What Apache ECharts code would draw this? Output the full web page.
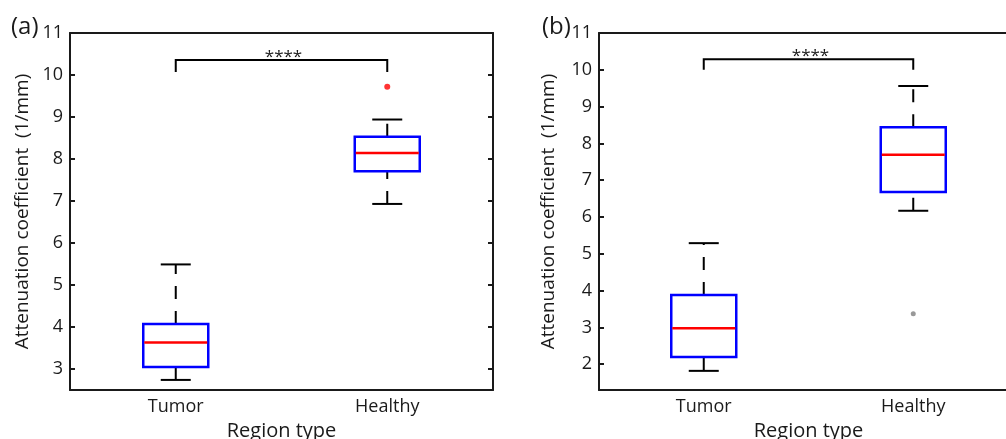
<!DOCTYPE html>
<html>
<head>
<meta charset="utf-8">
<script src="https://cdn.jsdelivr.net/npm/echarts@6/dist/echarts.min.js"></script>
<style>
  html, body { margin: 0; padding: 0; background: #fff; }
  #main { width: 1006px; height: 439px; }
</style>
</head>
<body>
<div id="main"></div>
<script>
// categories and box stats: [low whisker, Q1, median, Q3, high whisker]
var categories = ['Tumor', 'Healthy'];
var boxA = [[2.74, 3.05, 3.63, 4.07, 5.49], [6.93, 7.71, 8.14, 8.53, 8.94]];
var boxB = [[1.82, 2.20, 2.98, 3.88, 5.29], [6.17, 6.68, 7.69, 8.44, 9.56]];
var outlierA = [[1, 9.72]];
var outlierB = [[1, 3.37]];
// significance bracket: [leg bottom, bar]
var bracketA = [10.07, 10.36];
var bracketB = [10.00, 10.29];
var rangeA = [2.5, 11];
var rangeB = [1.3, 11];

var myChart = echarts.init(document.getElementById('main'));
var FONT = 'Open Sans';
var INK = '#1a1a1a';

function renderBox(params, api) {
    var x = api.value(0);
    var pLow = api.coord([x, api.value(1)]);
    var pQ1 = api.coord([x, api.value(2)]);
    var pMed = api.coord([x, api.value(3)]);
    var pQ3 = api.coord([x, api.value(4)]);
    var pHigh = api.coord([x, api.value(5)]);
    var cx = pMed[0];
    var bw = 65, cw = 30;
    var dash = {stroke: '#000', lineWidth: 2, lineDash: [13, 12]};
    var solid = {stroke: '#000', lineWidth: 2};
    return {
        type: 'group',
        children: [
            {type: 'line', shape: {x1: cx, y1: pQ3[1], x2: cx, y2: pHigh[1]}, style: dash},
            {type: 'line', shape: {x1: cx, y1: pLow[1], x2: cx, y2: pQ1[1]}, style: dash},
            {type: 'line', shape: {x1: cx - cw / 2, y1: pHigh[1], x2: cx + cw / 2, y2: pHigh[1]}, style: solid},
            {type: 'line', shape: {x1: cx - cw / 2, y1: pLow[1], x2: cx + cw / 2, y2: pLow[1]}, style: solid},
            {type: 'rect', shape: {x: cx - bw / 2, y: pQ3[1], width: bw, height: pQ1[1] - pQ3[1]},
                style: {fill: 'none', stroke: '#0000ff', lineWidth: 2.5}},
            {type: 'line', shape: {x1: cx - bw / 2 + 1, y1: pMed[1], x2: cx + bw / 2 - 1, y2: pMed[1]},
                style: {stroke: '#ff0000', lineWidth: 2.5}}
        ]
    };
}

function renderBracket(params, api) {
    var p0 = api.coord([api.value(0), api.value(2)]);
    var p1 = api.coord([api.value(0), api.value(3)]);
    var p2 = api.coord([api.value(1), api.value(3)]);
    var p3 = api.coord([api.value(1), api.value(2)]);
    return {
        type: 'group',
        children: [
            {type: 'polyline', shape: {points: [p0, p1, p2, p3]},
                style: {fill: 'none', stroke: '#000', lineWidth: 2}},
            {type: 'text', x: (p1[0] + p2[0]) / 2 + 2, y: p1[1] + 6,
                style: {text: '****', fill: INK, font: '17px ' + FONT, align: 'center', verticalAlign: 'bottom'}}
        ]
    };
}

function xAxes(gridIndex) {
    return [
        {
            type: 'category', gridIndex: gridIndex, data: categories, position: 'bottom',
            name: 'Region type', nameLocation: 'middle', nameGap: 31,
            nameTextStyle: {fontFamily: FONT, fontSize: 20, color: INK},
            axisLine: {lineStyle: {color: INK, width: 2}},
            axisTick: {inside: true, alignWithLabel: true, length: 5, lineStyle: {width: 2, color: INK}},
            axisLabel: {fontFamily: FONT, fontSize: 18, color: INK, margin: 8},
            splitLine: {show: false}
        },
        {
            type: 'category', gridIndex: gridIndex, data: categories, position: 'top',
            axisLine: {lineStyle: {color: INK, width: 2}},
            axisTick: {inside: true, alignWithLabel: true, length: 5, lineStyle: {width: 2, color: INK}},
            axisLabel: {show: false},
            splitLine: {show: false}
        }
    ];
}

function yAxes(gridIndex, range, gap) {
    var common = {
        type: 'value', gridIndex: gridIndex, min: range[0], max: range[1],
        splitNumber: 9, minInterval: 1, maxInterval: 1,
        axisLine: {show: true, lineStyle: {color: INK, width: 2}},
        axisTick: {show: true, inside: true, length: 5, lineStyle: {width: 2, color: INK}},
        splitLine: {show: false}
    };
    return [
        Object.assign({}, common, {
            position: 'left',
            name: 'Attenuation coefficient  (1/mm)', nameLocation: 'middle', nameGap: gap,
            nameTextStyle: {fontFamily: FONT, fontSize: 19, color: INK},
            axisLabel: {fontFamily: FONT, fontSize: 18, color: INK, margin: 7, showMinLabel: false}
        }),
        Object.assign({}, common, {position: 'right', axisLabel: {show: false}})
    ];
}

var option = {
    backgroundColor: '#fff',
    animation: false,
    title: [
        {text: '(a)', left: 6, top: 10, textStyle: {fontFamily: FONT, fontSize: 24, fontWeight: 'normal', color: INK}},
        {text: '(b)', left: 537, top: 10, textStyle: {fontFamily: FONT, fontSize: 24, fontWeight: 'normal', color: INK}}
    ],
    grid: [
        {left: 70, top: 33, width: 423, height: 357, outerBoundsMode: 'none'},
        {left: 599, top: 33, right: -12, height: 357, outerBoundsMode: 'none'}
    ],
    xAxis: xAxes(0).concat(xAxes(1)),
    yAxis: yAxes(0, rangeA, 38).concat(yAxes(1, rangeB, 41)),
    series: [
        {type: 'custom', xAxisIndex: 0, yAxisIndex: 0, silent: true, renderItem: renderBox,
            encode: {x: 0, y: [1, 2, 3, 4, 5]},
            data: boxA.map(function (b, i) { return [i].concat(b); })},
        {type: 'custom', xAxisIndex: 2, yAxisIndex: 2, silent: true, renderItem: renderBox,
            encode: {x: 0, y: [1, 2, 3, 4, 5]},
            data: boxB.map(function (b, i) { return [i].concat(b); })},
        {type: 'scatter', xAxisIndex: 0, yAxisIndex: 0, silent: true, symbolSize: 6,
            itemStyle: {color: '#ff0000'}, data: outlierA},
        {type: 'scatter', xAxisIndex: 2, yAxisIndex: 2, silent: true, symbolSize: 5,
            itemStyle: {color: '#808080'}, data: outlierB},
        {type: 'custom', xAxisIndex: 0, yAxisIndex: 0, silent: true, renderItem: renderBracket,
            encode: {x: [0, 1], y: [2, 3]},
            data: [[0, 1].concat(bracketA)]},
        {type: 'custom', xAxisIndex: 2, yAxisIndex: 2, silent: true, renderItem: renderBracket,
            encode: {x: [0, 1], y: [2, 3]},
            data: [[0, 1].concat(bracketB)]}
    ]
};

myChart.setOption(option);
</script>
</body>
</html>
